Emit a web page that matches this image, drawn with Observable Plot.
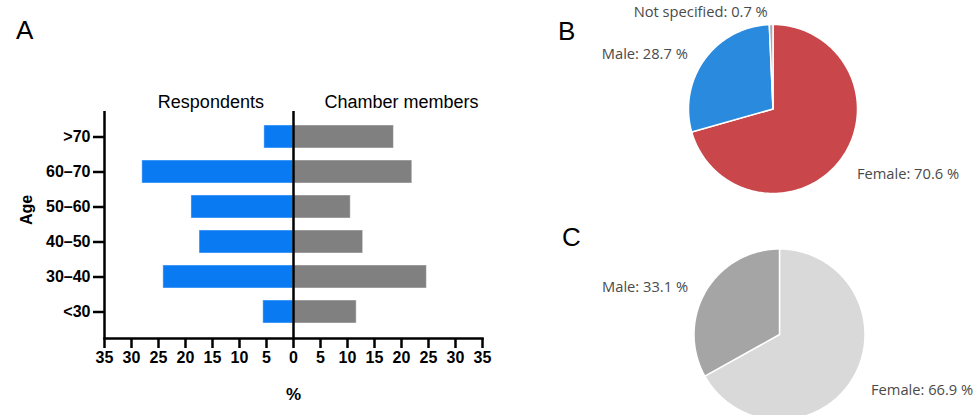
<!DOCTYPE html>
<html>
<head>
<meta charset="utf-8">
<script src="https://cdn.jsdelivr.net/npm/d3@7"></script>
<script src="https://cdn.jsdelivr.net/npm/@observablehq/plot@0.6"></script>
<style>
  html, body { margin: 0; padding: 0; background: #fff; }
  #wrap { position: relative; width: 976px; height: 415px; overflow: hidden; background: #fff; }
  .panel { position: absolute; }
  .letter { position: absolute; font-family: "Liberation Sans", Arial, sans-serif; font-size: 26px; line-height: 26px; color: #000; }
</style>
</head>
<body>
<div id="wrap"></div>
<script>
// ---------- data ----------
const ages = [">70", "60–70", "50–60", "40–50", "30–40", "<30"];
const respondents = [5.4, 28.0, 18.9, 17.4, 24.1, 5.6];
const chamberMembers = [18.6, 22.0, 10.6, 12.9, 24.7, 11.7];
const groups = ["Respondents", "Chamber members"];
const xTicks = [-35, -30, -25, -20, -15, -10, -5, 0, 5, 10, 15, 20, 25, 30, 35];

const surveyGender = ["Female", "Male", "Not specified"];
const surveyShare = [70.6, 28.7, 0.7];
const chamberGender = ["Female", "Male"];
const chamberShare = [66.9, 33.1];

// ---------- layout helpers ----------
const wrap = document.getElementById("wrap");
function place(node, left, top) {
  const d = document.createElement("div");
  d.className = "panel";
  d.style.left = left + "px";
  d.style.top = top + "px";
  d.appendChild(node);
  wrap.appendChild(d);
}
function letter(t, left, top) {
  const d = document.createElement("div");
  d.className = "letter";
  d.textContent = t;
  d.style.left = left + "px";
  d.style.top = top + "px";
  wrap.appendChild(d);
}

// ---------- panel A: bars ----------
const rows = [];
ages.forEach((a, i) => {
  rows.push({age: a, group: groups[0], value: -respondents[i]});
  rows.push({age: a, group: groups[1], value: chamberMembers[i]});
});
const headingX = [-15.3, 20];

const bars = Plot.plot({
  width: 560, height: 415,
  marginLeft: 104, marginRight: 78, marginTop: 111, marginBottom: 77,
  style: {fontFamily: "'Liberation Sans', Arial, sans-serif", fontSize: "16px", fontWeight: "bold", color: "#000", background: "transparent", overflow: "visible"},
  x: {domain: [-35, 35]},
  y: {domain: ages, padding: 1 / 3},
  color: {domain: groups, range: ["#0a7af3", "#808080"]},
  marks: [
    Plot.barX(rows, {x: "value", y: "age", fill: "group", stroke: "#ffffff", strokeOpacity: 0.45, strokeWidth: 1}),
    Plot.ruleX([0], {stroke: "#000", strokeWidth: 2.5}),
    Plot.ruleX([-35], {stroke: "#000", strokeWidth: 2.5}),
    Plot.frame({anchor: "bottom", stroke: "#000", strokeWidth: 2.5}),
    Plot.axisX({ticks: xTicks, tickFormat: d => Math.abs(d), tickSize: 10, tickPadding: 3, strokeWidth: 2.5, label: null, fontSize: 16, fontWeight: "bold"}),
    Plot.axisY({tickSize: 11, tickPadding: 3, strokeWidth: 2.5, label: null, fontSize: 16, fontWeight: "bold"}),
    Plot.text(groups, {x: headingX, text: d => d, frameAnchor: "top", dy: -16, fontSize: 18, fontWeight: "normal"}),
    Plot.text(["%"], {frameAnchor: "bottom", dy: 61, fontSize: 17, fontWeight: "bold"}),
    Plot.text(["Age"], {frameAnchor: "left", dx: -78, rotate: -90, fontSize: 16, fontWeight: "bold"})
  ]
});
place(bars, 0, 0);

// ---------- pies ----------
function pie(names, shares, colors, size, inset) {
  const total = d3.sum(shares);
  const feats = [];
  const labels = [];
  let start = 0;
  names.forEach((n, i) => {
    const a0 = start / total * 2 * Math.PI;
    const a1 = (start + shares[i]) / total * 2 * Math.PI;
    const steps = Math.max(2, Math.ceil((a1 - a0) / (Math.PI / 180)));
    const ring = [[0, 0]];
    for (let k = 0; k <= steps; k++) {
      const a = a0 + (a1 - a0) * k / steps;
      ring.push([Math.sin(a), -Math.cos(a)]);
    }
    ring.push([0, 0]);
    feats.push({type: "Feature", properties: {name: n}, geometry: {type: "Polygon", coordinates: [ring]}});
    const am = (a0 + a1) / 2;
    labels.push({text: `${n}: ${shares[i]} %`, x: 1.2 * Math.sin(am), y: -1.2 * Math.cos(am), right: Math.sin(am) >= 0});
    start += shares[i];
  });
  return Plot.plot({
    width: size[0], height: size[1],
    margin: 0,
    style: {fontFamily: "'Open Sans', 'Noto Sans', sans-serif", fontSize: "14.7px", color: "#4a4a4a", background: "transparent", overflow: "visible"},
    projection: {type: "identity", domain: {type: "MultiPoint", coordinates: [[-1, -1], [1, 1]]},
      insetLeft: inset[0], insetRight: inset[1], insetTop: inset[2], insetBottom: inset[3]},
    color: {domain: names, range: colors},
    marks: [
      Plot.geo(feats, {fill: d => d.properties.name, stroke: "#ffffff", strokeWidth: 1.5}),
      Plot.text(labels.filter(d => d.right), {x: "x", y: "y", text: "text", textAnchor: "start", dx: 3, dy: 4, fill: "#4a4a4a", fontSize: 14.7}),
      Plot.text(labels.filter(d => !d.right), {x: "x", y: "y", text: "text", textAnchor: "end", dx: -3, dy: 5, fill: "#4a4a4a", fontSize: 14.7})
    ]
  });
}

const pieB = pie(surveyGender, surveyShare, ["#c9474b", "#2a8ade", "#a8a8a8"], [396, 210], [108, 119, 24, 17]);
place(pieB, 580, 0);
const pieC = pie(chamberGender, chamberShare, ["#d9d9d9", "#a5a5a5"], [396, 250], [113.5, 111.5, 38.5, 40.5]);
place(pieC, 580, 210);

letter("A", 16, 17);
letter("B", 558, 18);
letter("C", 562, 224);
</script>
</body>
</html>
